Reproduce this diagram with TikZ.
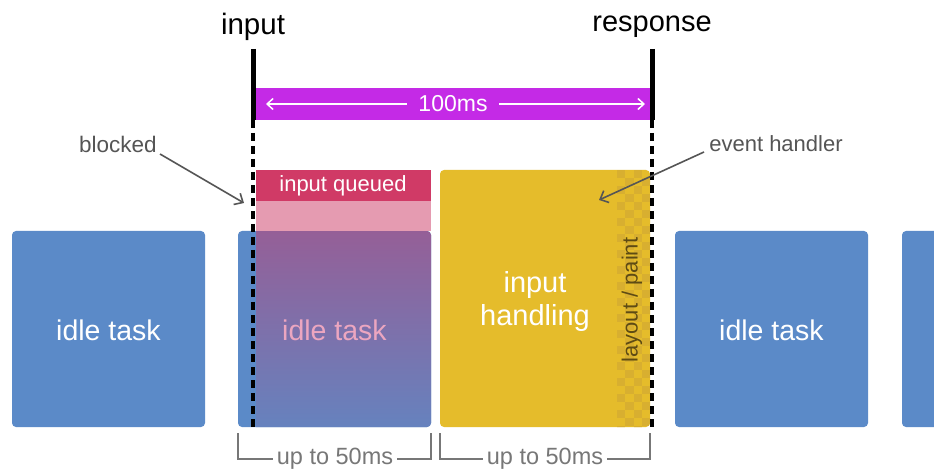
\documentclass[tikz,border=0pt]{standalone}
\usepackage{fontspec}
\setmainfont{Liberation Sans}
\usetikzlibrary{arrows.meta,calc}
\definecolor{idle}{HTML}{5B8AC8}
\definecolor{ovtop}{HTML}{955F97}
\definecolor{ovbot}{HTML}{6682BE}
\definecolor{qred}{HTML}{D03A66}
\definecolor{qpink}{HTML}{E59BB1}
\definecolor{ihy}{HTML}{E5BC2B}
\definecolor{ihdark}{HTML}{D8AF30}
\definecolor{bar}{HTML}{C42AE6}
\definecolor{lbl}{HTML}{555555}
\definecolor{brk}{HTML}{777777}
\definecolor{idletxt}{HTML}{ECA6C0}
\definecolor{lp}{HTML}{5E4B14}
\begin{document}
\begin{tikzpicture}[x=1pt,y=-1pt,
  box/.style={inner sep=0pt, outer sep=0pt, anchor=north west, rounded corners=4pt},
  bigtxt/.style={font=\fontsize{28.5}{34}\selectfont, text=white},
  midtxt/.style={font=\fontsize{22.5}{26}\selectfont},
  mark line/.style={line width=5pt, black},
  dash line/.style={line width=3.2pt, black, dash pattern=on 8pt off 5pt},
  callout/.style={lbl, line width=1.6pt, -{Straight Barb[length=7pt,width=13pt]}},
  bracket/.style={brk, line width=1.4pt}]
\useasboundingbox (0,0) rectangle (934,470);
\fill[white] (0,0) rectangle (934,470);

% idle tasks
\node[box, fill=idle, minimum width=193pt, minimum height=196pt] (idle1) at (12,231) {};
\node[bigtxt] at ([yshift=-1pt]idle1.center) {idle task};
\node[box, fill=idle, minimum width=193pt, minimum height=196pt] (idle2) at (238,231) {};
\begin{scope}
  \clip[rounded corners=4pt] (238,231) rectangle (431,427);
  \shade[top color=ovtop, bottom color=ovbot] (256,231) rectangle (431,427);
\end{scope}
\node[bigtxt, text=idletxt] (idle2t) at ([yshift=-1pt]idle2.center) {idle task};
\node[box, fill=idle, minimum width=193pt, minimum height=196pt] (idle3) at (675,231) {};
\node[bigtxt] at ([yshift=-1pt]idle3.center) {idle task};
\node[box, fill=idle, minimum width=193pt, minimum height=196pt] (idle4) at (902,231) {};

% input queued
\node[box, rounded corners=0pt, fill=qpink, minimum width=175pt, minimum height=30pt] (qpink) at (256,201) {};
\node[box, rounded corners=0pt, fill=qred, minimum width=175pt, minimum height=31pt] (qred) at (256,170) {};
\node[font=\fontsize{22}{25}\selectfont, text=white] at (343,186) {input queued};

% input handling
\node[box, fill=ihy, minimum width=210pt, minimum height=257pt] (ih) at (440,170) {};
\begin{scope}
  \clip[rounded corners=4pt] (440,170) rectangle (650,427);
  \foreach \r in {0,...,32}{
    \foreach \c in {0,...,3}{
      \pgfmathtruncatemacro{\cpar}{mod(\r+\c,2)}
      \ifnum\cpar=0
        \fill[ihdark] ({617+8.25*\c},{170+8*\r}) rectangle ++(8.25,8);
      \fi
    }
  }
\end{scope}
\node[bigtxt, align=center, font=\fontsize{29}{33}\selectfont] (iht) at (535,302) {input\\handling};
\node[rotate=90, text=lp, font=\fontsize{22}{25}\selectfont] (lp) at (632,300) {layout / paint};

% input / response markers
\node[font=\fontsize{29.5}{34}\selectfont] (inp) at (253,27) {input};
\node[font=\fontsize{29}{34}\selectfont] (resp) at (652,27) {response};
\coordinate (inTop) at (253,49);
\coordinate (inMid) at (253,120);
\coordinate (inBot) at (253,428);
\coordinate (reTop) at (652,49);
\coordinate (reMid) at (652,120);
\coordinate (reBot) at (652,428);
\draw[dash line] (inMid) -- (inBot);
\draw[dash line] (reMid) -- (reBot);

% 100ms bar
\node[box, rounded corners=0pt, fill=bar, minimum width=394pt, minimum height=32pt] (bar) at (256,88) {};
\node[midtxt, text=white, font=\fontsize{23}{26}\selectfont] (ms) at (bar.center) {100ms};
\coordinate (barL) at (266,104);
\coordinate (barR) at (645,104);
\draw[white, line width=1.5pt, -{Straight Barb[length=6pt,width=11pt]}] (ms.west) ++(-8,0) -- (barL);
\draw[white, line width=1.5pt, -{Straight Barb[length=6pt,width=11pt]}] (ms.east) ++(8,0) -- (barR);
\draw[mark line] (inTop) -- (inMid);
\draw[mark line] (reTop) -- (reMid);

% callouts
\node[midtxt, text=lbl] (blk) at (118,144) {blocked};
\coordinate (blkTip) at (244,203);
\draw[callout] (160,154) -- (blkTip);
\node[midtxt, text=lbl, font=\fontsize{22}{25}\selectfont] (evh) at (776,144) {event handler};
\coordinate (evTip) at (599,200);
\draw[callout] (704,152) -- (evTip);

% brackets
\node[text=brk, font=\fontsize{23.5}{27}\selectfont] (u1) at (335,459) {up to 50ms};
\node[text=brk, font=\fontsize{23.5}{27}\selectfont] (u2) at (545,459) {up to 50ms};
\draw[bracket] (238,433) |- (u1.west);
\draw[bracket] (431,433) |- (u1.east);
\draw[bracket] (440,433) |- (u2.west);
\draw[bracket] (650,433) |- (u2.east);
\end{tikzpicture}
\end{document}
